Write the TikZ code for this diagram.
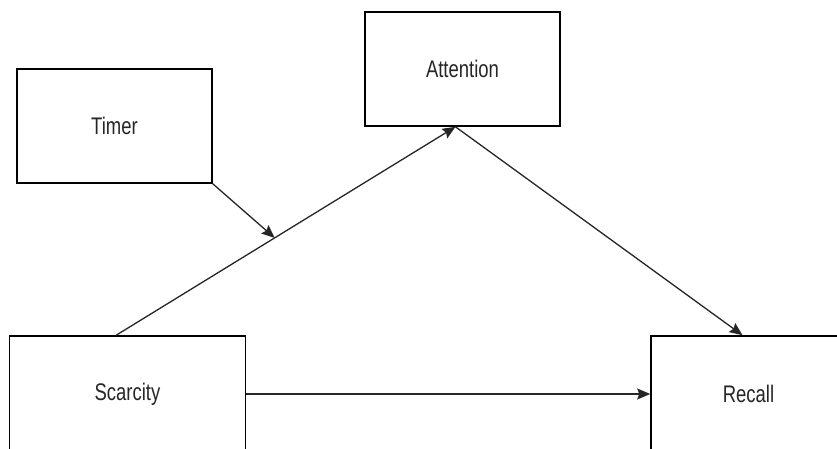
\documentclass[tikz,border=0pt]{standalone}
\usepackage{fontspec}
\setmainfont{Liberation Sans}
\usepackage{graphicx}
\usetikzlibrary{arrows.meta,calc}

\newcommand{\boxlabel}[1]{\scalebox{0.77}[1]{\fontsize{24pt}{28pt}\selectfont #1}}

\tikzset{
  block/.style={draw=black, line width=1.6pt, fill=white, inner sep=0pt,
    minimum width=195pt, minimum height=114pt, text=black!85},
  link/.style={draw=black!85, line width=1.3pt,
    -{Stealth[length=13pt, width=11pt, inset=2pt]}},
}

\begin{document}
\begin{tikzpicture}[x=1pt, y=-1pt]
  \useasboundingbox (0,0) rectangle (837,448);
  \fill[white] (0,0) rectangle (837,448);
  \clip (0,0) rectangle (837,448);

  % boxes
  \node[block] (timer) at (114.5,126) {\boxlabel{Timer}};
  \node[block] (att) at (462.5,69) {\boxlabel{Attention}};
  \node[block, minimum width=236pt, minimum height=116pt] (scar) at (127.5,394) {\boxlabel{Scarcity}};
  \node[block, minimum height=116pt] (rec) at (748.5,394) {\boxlabel{Recall}};

  % anchor points for the diagonal paths
  \coordinate (sa) at ($(scar.north west)+(107.5,0)$);
  \coordinate (ab) at ($(att.south)+(-7,0)$);
  \coordinate (rt) at ($(rec.north)+(-6,0)$);
  \coordinate (mod) at ($(sa)!0.467!(ab)$);

  % connectors
  \draw[link] (sa) -- (ab);
  \draw[link] (ab) -- (rt);
  \draw[link] (timer.south east) -- (mod);
  \draw[link] (scar.east) -- (rec.west);
\end{tikzpicture}
\end{document}
